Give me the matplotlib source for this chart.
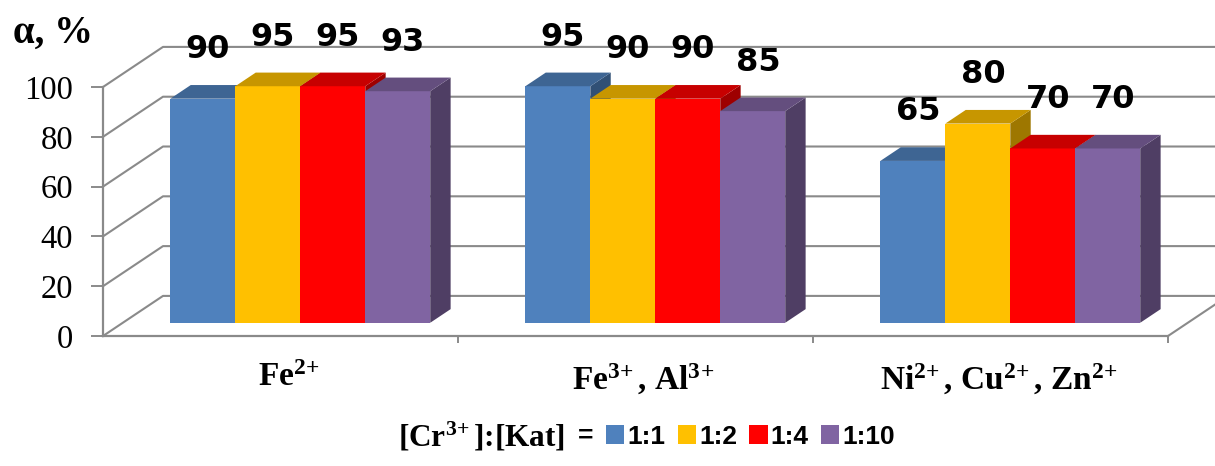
"""Grado de eliminación α por catión para distintas relaciones [Cr3+]:[Kat]."""

import matplotlib

matplotlib.use("Agg")

import matplotlib.pyplot as plt
from matplotlib.colors import to_rgb
from matplotlib.patches import Patch
from matplotlib.transforms import ScaledTranslation

categories = [
    r"Fe$^{2\!+}$",
    r"Fe$^{3\!+}$, Al$^{3\!+}$",
    r"Ni$^{2\!+}$, Cu$^{2\!+}$, Zn$^{2\!+}$",
]
ratio_labels = ["1:1", "1:2", "1:4", "1:10"]
alpha_1_1 = [90, 95, 65]
alpha_1_2 = [95, 90, 80]
alpha_1_4 = [95, 90, 70]
alpha_1_10 = [93, 85, 70]
y_ticks = [0, 20, 40, 60, 80, 100]

series_values = [alpha_1_1, alpha_1_2, alpha_1_4, alpha_1_10]
series_colors = ["#4F81BD", "#FFC000", "#FF0000", "#8064A2"]

# proyección oblicua del 3D de Excel (en unidades de datos)
BAR_WIDTH = 0.183
DEPTH_DX = 0.169
DEPTH_DY = 16.1
BAR_FRONT = 0.33
BAR_BACK = 0.67
GRID_COLOR = "#8A8A8A"

plt.rcParams["mathtext.fontset"] = "custom"
plt.rcParams["mathtext.rm"] = "Liberation Serif:bold"
plt.rcParams["mathtext.bf"] = "Liberation Serif:bold"
plt.rcParams["mathtext.it"] = "Liberation Serif:italic:bold"
plt.rcParams["mathtext.default"] = "bf"


def shade(color, factor):
    """Oscurece un color para las caras superior y lateral."""
    return tuple(channel * factor for channel in to_rgb(color))


def draw_bar(axis, left, value, color):
    """Dibuja una barra con aspecto 3D y devuelve la x de su etiqueta."""
    x0 = left + BAR_FRONT * DEPTH_DX
    y0 = BAR_FRONT * DEPTH_DY
    ddx = (BAR_BACK - BAR_FRONT) * DEPTH_DX
    ddy = (BAR_BACK - BAR_FRONT) * DEPTH_DY
    right = x0 + BAR_WIDTH
    top = y0 + value

    side = [
        (right, y0),
        (right + ddx, y0 + ddy),
        (right + ddx, top + ddy),
        (right, top),
    ]
    front = [
        (x0, y0),
        (right, y0),
        (right, top),
        (x0, top),
    ]
    lid = [
        (x0, top),
        (x0 + ddx, top + ddy),
        (right + ddx, top + ddy),
        (right, top),
    ]

    for face, factor in ((side, 0.62), (front, 1.0), (lid, 0.78)):
        xs, ys = zip(*face)
        axis.fill(
            xs,
            ys,
            color=shade(color, factor),
            linewidth=0,
            zorder=3,
            clip_on=False,
        )

    return x0 + BAR_WIDTH / 2 + ddx / 4


def draw_walls(axis, n_groups):
    """Pared lateral, pared del fondo y suelo con sus líneas de cuadrícula."""
    left = -0.5
    right = n_groups - 0.5

    for tick in y_ticks:
        axis.plot(
            [left, left + DEPTH_DX, right + DEPTH_DX],
            [tick, tick + DEPTH_DY, tick + DEPTH_DY],
            color=GRID_COLOR,
            linewidth=1.5,
            zorder=1,
            clip_on=False,
        )

    axis.plot(
        [right, right + DEPTH_DX],
        [0, DEPTH_DY],
        color=GRID_COLOR,
        linewidth=1.5,
        zorder=1,
        clip_on=False,
    )


figure = plt.figure(figsize=(12.15, 4.66), dpi=100)
axis = figure.add_axes([103 / 1215, 130 / 466, 1065 / 1215, 249 / 466])

n_groups = len(categories)
n_series = len(series_values)

axis.set_xlim(-0.5, n_groups - 0.5)
axis.set_ylim(0, 100)

draw_walls(axis, n_groups)

for group_index in range(n_groups):
    group_left = group_index - n_series * BAR_WIDTH / 2

    for series_index in range(n_series):
        value = series_values[series_index][group_index]
        label_x = draw_bar(
            axis,
            group_left + series_index * BAR_WIDTH,
            value,
            series_colors[series_index],
        )
        axis.text(
            label_x,
            value + 25,
            str(value),
            ha="center",
            va="center",
            fontsize=23,
            fontweight="bold",
            family="DejaVu Sans",
            zorder=5,
            clip_on=False,
        )

# ejes
for name in ("top", "right"):
    axis.spines[name].set_visible(False)

for name in ("left", "bottom"):
    axis.spines[name].set_color(GRID_COLOR)
    axis.spines[name].set_linewidth(1.6)
    axis.spines[name].set_zorder(2)

axis.set_yticks(y_ticks)
axis.tick_params(
    axis="y",
    direction="out",
    length=8.5,
    width=1.4,
    color=GRID_COLOR,
    pad=13,
    labelsize=23.5,
)
for label in axis.get_yticklabels():
    label.set_family("Liberation Serif")

axis.set_xticks(range(n_groups), labels=categories)
axis.set_xticks([0.5 + index for index in range(n_groups)], minor=True)
axis.tick_params(axis="x", which="major", length=0, pad=19, labelsize=24)
axis.tick_params(
    axis="x",
    which="minor",
    direction="out",
    length=5,
    width=1.4,
    color=GRID_COLOR,
)
label_shift = ScaledTranslation(8 / 100, 0, figure.dpi_scale_trans)
for label in axis.get_xticklabels():
    label.set_family("Liberation Serif")
    label.set_fontweight("bold")
    label.set_transform(label.get_transform() + label_shift)

axis.set_facecolor("none")

figure.text(
    53 / 1215,
    1 - 33 / 466,
    "α, %",
    ha="center",
    va="center",
    fontsize=28,
    fontweight="bold",
    family="Liberation Serif",
)

# leyenda
figure.text(
    565 / 1215,
    1 - 437 / 466,
    r"$[\mathrm{Cr}^{3\!+}]$:[Kat]",
    ha="right",
    va="center",
    fontsize=22.5,
    fontweight="bold",
    family="Liberation Serif",
)
figure.text(
    586 / 1215,
    1 - 436 / 466,
    "=",
    ha="center",
    va="center",
    fontsize=19,
    fontweight="bold",
    family="Liberation Sans",
)

handles = [
    Patch(facecolor=color, label=label)
    for color, label in zip(series_colors, ratio_labels)
]
figure.legend(
    handles=handles,
    ncol=n_series,
    loc="center left",
    bbox_to_anchor=(606 / 1215, 1 - 437 / 466),
    frameon=False,
    borderpad=0,
    borderaxespad=0,
    handlelength=0.7,
    handleheight=0.75,
    handletextpad=0.12,
    columnspacing=0.45,
    prop={"family": "Liberation Sans", "weight": "bold", "size": 19},
)

figure.savefig("out.png", dpi=100)
plt.close(figure)
